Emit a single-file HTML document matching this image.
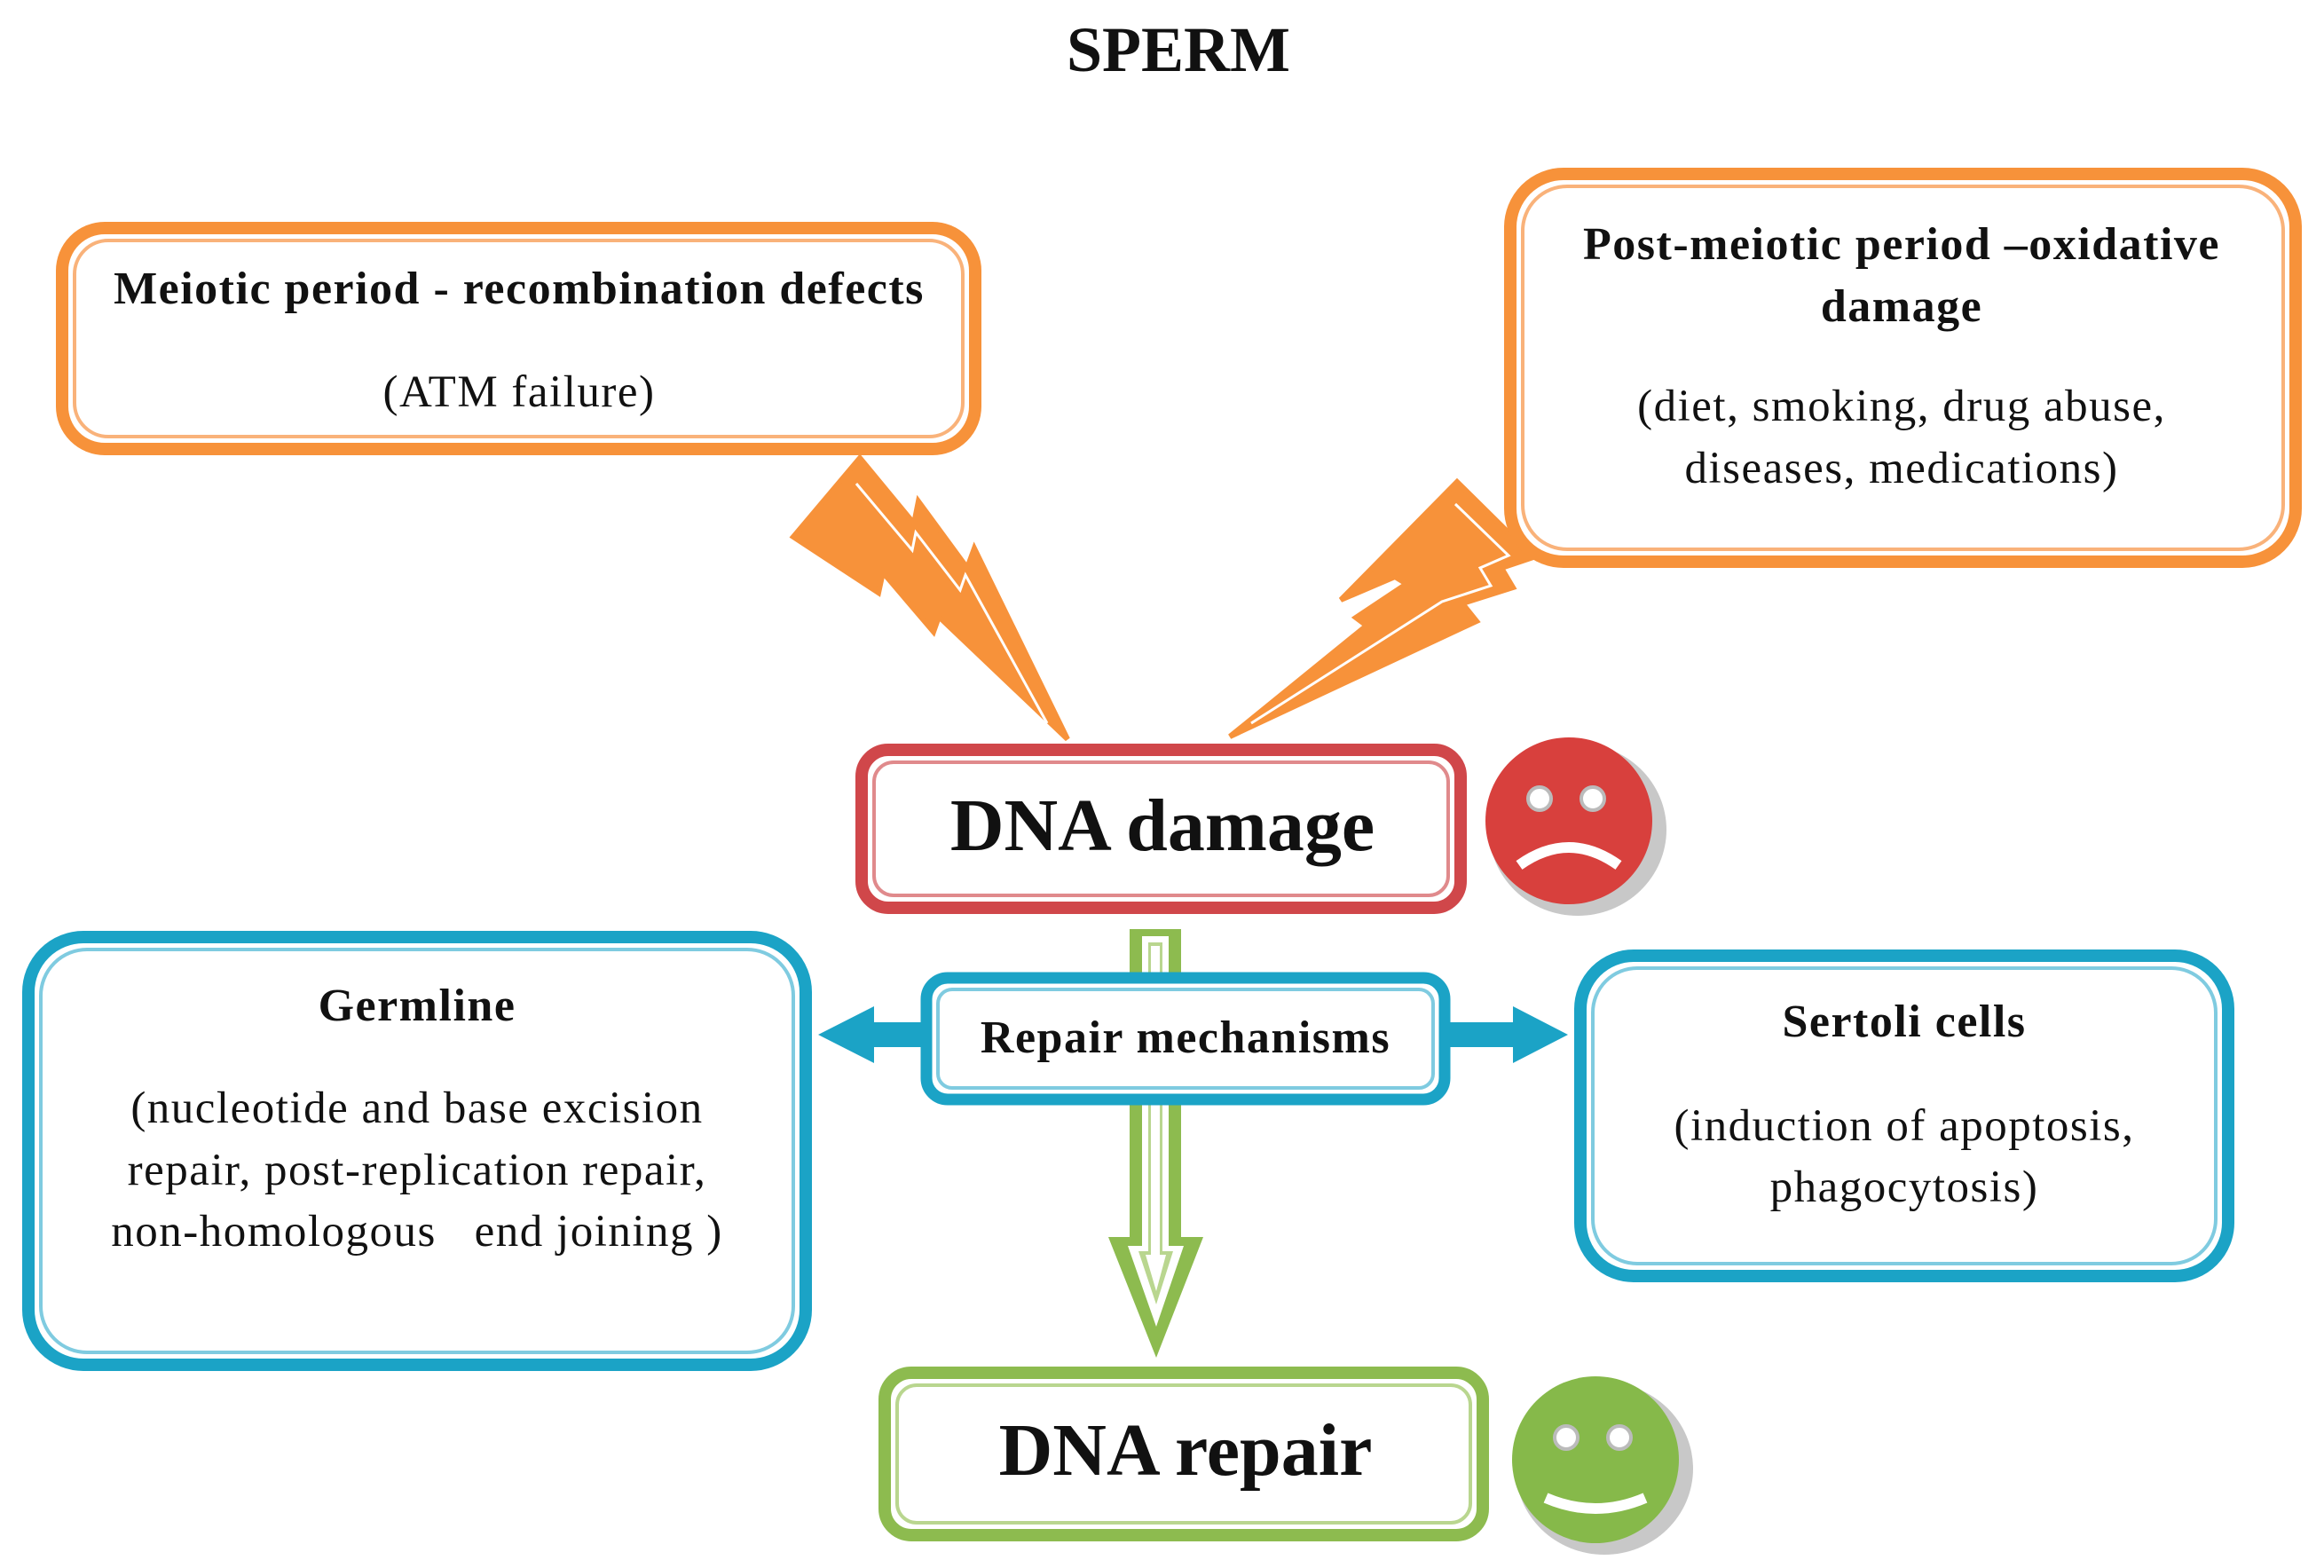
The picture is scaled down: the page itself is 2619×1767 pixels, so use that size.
<!DOCTYPE html>
<html><head><meta charset="utf-8"><style>
html,body{margin:0;padding:0;background:#fff;}
svg{display:block;}
text{font-family:"Liberation Serif",serif;fill:#111;text-anchor:middle;}
.h{font-weight:bold;font-size:52px;letter-spacing:1.5px;}
.b{font-size:51px;letter-spacing:1.5px;}
</style></head><body>
<svg width="2619" height="1767" viewBox="0 0 2619 1767" xmlns="http://www.w3.org/2000/svg">
<text x="1328" y="80" style="font-weight:bold;font-size:72px">SPERM</text>

<g fill="#f7923a" stroke="#f7923a" stroke-width="6" stroke-linejoin="miter">
<polygon points="969,516 1030,590 1035,565 1090,640 1098,618 1203,833 1058,695 1052,712 995,645 990,668 894,605"/>
<polygon points="1642,543 1728,628 1692,640 1705,662 1648,680 1664,700 1386,830 1540,705 1528,696 1585,658 1572,650 1511,676"/>
</g>
<g fill="none" stroke="#fff" stroke-width="3">
<polyline points="965,545 1028,620 1032,600 1082,665 1088,648 1180,815"/>
<polyline points="1640,568 1700,626 1668,640 1680,660 1625,678 1410,815"/>
</g>

<rect x="70" y="257" width="1029" height="249" rx="48" fill="#fff" stroke="#f7923a" stroke-width="14"/>
<rect x="84" y="271" width="1001" height="221" rx="38" fill="none" stroke="#f9b27a" stroke-width="4"/>
<text class="h" x="585" y="342">Meiotic period - recombination defects</text>
<text class="b" x="585" y="458">(ATM failure)</text>

<rect x="1702" y="196" width="885" height="437" rx="60" fill="#fff" stroke="#f7923a" stroke-width="14"/>
<rect x="1716" y="210" width="857" height="409" rx="50" fill="none" stroke="#f9b27a" stroke-width="4"/>
<text class="h" x="2143" y="292">Post-meiotic period –oxidative</text>
<text class="h" x="2143" y="362">damage</text>
<text class="b" x="2143" y="474">(diet, smoking, drug abuse,</text>
<text class="b" x="2143" y="544">diseases, medications)</text>

<rect x="971" y="845" width="675" height="178" rx="30" fill="#fff" stroke="#d0474a" stroke-width="14"/>
<rect x="985" y="859" width="647" height="150" rx="22" fill="none" stroke="#e08a8c" stroke-width="4"/>
<text x="1310" y="958" style="font-weight:bold;font-size:84px">DNA damage</text>

<ellipse cx="1778" cy="935" rx="100" ry="97" fill="#c8c8c8"/>
<circle cx="1768" cy="925" r="94" fill="#d8403d"/>
<circle cx="1735" cy="900" r="13" fill="#fff" stroke="#bbb" stroke-width="4"/>
<circle cx="1795" cy="900" r="13" fill="#fff" stroke="#bbb" stroke-width="4"/>
<path d="M1712 975 Q1768 935 1824 975" fill="none" stroke="#fff" stroke-width="12"/>

<polygon points="1273,1047 1331,1047 1331,1394 1356,1394 1303,1530 1249,1394 1273,1394" fill="#8dbb4f"/>
<polygon points="1287,1055 1317,1055 1317,1404 1334,1404 1303,1495 1271,1404 1287,1404" fill="#fff"/>
<polygon points="1294,1062 1310,1062 1310,1410 1322,1410 1303,1470 1283,1410 1294,1410" fill="#b9d68f"/>
<polygon points="1297,1066 1307,1066 1307,1414 1314,1414 1303,1455 1291,1414 1297,1414" fill="#fff"/>

<rect x="985" y="1152" width="60" height="28" fill="#1ba3c6"/>
<polygon points="922,1166 985,1134 985,1198" fill="#1ba3c6"/>
<rect x="1630" y="1152" width="80" height="28" fill="#1ba3c6"/>
<polygon points="1767,1166 1705,1134 1705,1198" fill="#1ba3c6"/>

<rect x="1044" y="1102" width="584" height="137" rx="24" fill="#fff" stroke="#1ba3c6" stroke-width="13"/>
<rect x="1057" y="1115" width="558" height="111" rx="16" fill="none" stroke="#7fcbe0" stroke-width="4"/>
<text class="h" x="1336" y="1186">Repair mechanisms</text>

<rect x="32" y="1056" width="876" height="482" rx="62" fill="#fff" stroke="#1ba3c6" stroke-width="14"/>
<rect x="46" y="1070" width="848" height="454" rx="52" fill="none" stroke="#7fcbe0" stroke-width="4"/>
<text class="h" x="470" y="1150">Germline</text>
<text class="b" x="470" y="1265">(nucleotide and base excision</text>
<text class="b" x="470" y="1335">repair, post-replication repair,</text>
<text class="b" x="470" y="1404" xml:space="preserve">non-homologous   end joining )</text>

<rect x="1781" y="1077" width="730" height="361" rx="60" fill="#fff" stroke="#1ba3c6" stroke-width="14"/>
<rect x="1795" y="1091" width="702" height="333" rx="50" fill="none" stroke="#7fcbe0" stroke-width="4"/>
<text class="h" x="2146" y="1168">Sertoli cells</text>
<text class="b" x="2146" y="1285">(induction of apoptosis,</text>
<text class="b" x="2146" y="1354">phagocytosis)</text>

<rect x="997" y="1547" width="674" height="183" rx="30" fill="#fff" stroke="#8dbb4f" stroke-width="14"/>
<rect x="1011" y="1561" width="646" height="155" rx="22" fill="none" stroke="#b9d68f" stroke-width="4"/>
<text x="1336" y="1662" style="font-weight:bold;font-size:84px">DNA repair</text>

<ellipse cx="1808" cy="1655" rx="100" ry="97" fill="#c8c8c8"/>
<circle cx="1798" cy="1645" r="94" fill="#86b94a"/>
<circle cx="1765" cy="1620" r="13" fill="#fff" stroke="#bbb" stroke-width="4"/>
<circle cx="1825" cy="1620" r="13" fill="#fff" stroke="#bbb" stroke-width="4"/>
<path d="M1742 1688 Q1798 1712 1854 1688" fill="none" stroke="#fff" stroke-width="12"/>
</svg>
</body></html>
